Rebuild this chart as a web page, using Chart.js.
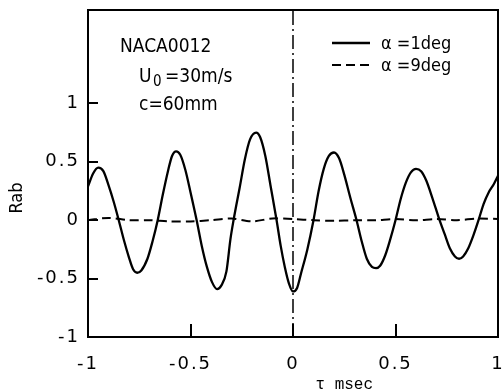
<!DOCTYPE html>
<html>
<head>
<meta charset="utf-8">
<script src="https://cdn.jsdelivr.net/npm/chart.js@4"></script>
<style>
    html, body { margin: 0; padding: 0; background: #fff; }
    #wrap { width: 502px; height: 391px; }
</style>
</head>
<body>
<div id="wrap"><canvas id="corrChart"></canvas></div>
<script>
// correlation Rab against time lag tau (msec)
const tauA1 = [-1.00, -0.975, -0.95, -0.925, -0.90, -0.875, -0.85, -0.825, -0.80, -0.78, -0.76, -0.74, -0.71, -0.685,
    -0.66, -0.635, -0.61, -0.59, -0.57, -0.55, -0.525, -0.50, -0.47, -0.445, -0.42, -0.395, -0.37, -0.35, -0.325, -0.305,
    -0.29, -0.26, -0.235, -0.21, -0.18, -0.16, -0.135, -0.11, -0.08, -0.06, -0.04, -0.02, 0.00, 0.02, 0.04, 0.07,
    0.10, 0.125, 0.15, 0.175, 0.20, 0.225, 0.25, 0.28, 0.31, 0.335, 0.36, 0.385, 0.405, 0.425, 0.45, 0.475,
    0.50, 0.525, 0.55, 0.575, 0.60, 0.625, 0.65, 0.68, 0.715, 0.74, 0.765, 0.79, 0.81, 0.83, 0.855, 0.88,
    0.905, 0.93, 0.955, 0.98, 1.00];
const rabA1 = [0.29, 0.40, 0.45, 0.42, 0.30, 0.16, 0.00, -0.17, -0.32, -0.42, -0.45, -0.43, -0.33, -0.18,
    0.00, 0.22, 0.42, 0.55, 0.59, 0.56, 0.43, 0.24, 0.00, -0.22, -0.40, -0.53, -0.59, -0.56, -0.44, -0.16,
    0.00, 0.28, 0.52, 0.69, 0.75, 0.71, 0.55, 0.30, 0.00, -0.22, -0.40, -0.54, -0.61, -0.58, -0.45, -0.25,
    0.00, 0.25, 0.44, 0.55, 0.58, 0.53, 0.39, 0.19, 0.00, -0.18, -0.33, -0.40, -0.41, -0.39, -0.30, -0.16,
    0.00, 0.18, 0.32, 0.41, 0.44, 0.42, 0.34, 0.19, 0.00, -0.12, -0.24, -0.31, -0.33, -0.31, -0.24, -0.13,
    0.00, 0.14, 0.24, 0.31, 0.38];

const tauA9 = [-1.0, -0.9, -0.8, -0.7, -0.6, -0.5, -0.4, -0.3, -0.2, -0.1, 0.0, 0.1, 0.2, 0.3, 0.4, 0.5, 0.6, 0.7, 0.8, 0.9, 1.0];
const rabA9 = [0.00, 0.02, 0.00, 0.00, -0.01, -0.01, 0.00, 0.015, -0.01, 0.015, 0.01, 0.00, -0.005, 0.00, 0.00, 0.01, 0.00, 0.01, 0.00, 0.015, 0.01];

const seriesLabels = ['α =1deg', 'α =9deg'];
const yTicks = [-1, -0.5, 0, 0.5, 1];
const xTicks = [-1, -0.5, 0, 0.5, 1];
const noteLines = ['NACA0012', 'U', '0', '=30m/s', 'c=60mm'];

const toPoints = (xs, ys) => xs.map((x, i) => ({ x: x, y: ys[i] }));

const FONT = '"DejaVu Sans Condensed", "DejaVu Sans", sans-serif';
const TICK_FONT = '"DejaVu Sans", sans-serif';

// wider letter spacing for the tick numbers
const spacing = {
    id: 'spacing',
    beforeDraw(chart) { chart.ctx.letterSpacing = '2px'; },
    afterDraw(chart) { chart.ctx.letterSpacing = '0px'; }
};

// box, inner ticks, notes, legend and axis titles
const decorations = {
    id: 'decorations',
    afterDatasetsDraw(chart) {
        const ctx = chart.ctx;
        const a = chart.chartArea;
        const xs = chart.scales.x, ys = chart.scales.y;
        ctx.save();
        ctx.letterSpacing = '0px';
        ctx.strokeStyle = '#000';
        ctx.lineWidth = 2;
        ctx.strokeRect(a.left, a.top, a.right - a.left, a.bottom - a.top);

        ctx.beginPath();
        yTicks.filter(v => v > -1).forEach(v => {
            const py = Math.round(ys.getPixelForValue(v));
            ctx.moveTo(a.left, py);
            ctx.lineTo(a.left + 10, py);
        });
        xTicks.filter(v => v > -1 && v < 1).forEach(v => {
            const px = Math.round(xs.getPixelForValue(v));
            ctx.moveTo(px, a.bottom);
            ctx.lineTo(px, a.bottom - 13);
        });
        ctx.stroke();

        ctx.fillStyle = '#000';
        ctx.textBaseline = 'middle';
        ctx.textAlign = 'left';
        ctx.font = '19px ' + FONT;
        ctx.fillText(noteLines[0], 120, 47);
        ctx.fillText(noteLines[1], 139, 77);
        ctx.font = '15px ' + FONT;
        ctx.fillText(noteLines[2], 153, 82);
        ctx.font = '19px ' + FONT;
        ctx.fillText(noteLines[3], 165, 77);
        ctx.fillText(noteLines[4], 139, 105);

        // legend
        ctx.font = '18px ' + FONT;
        chart.data.datasets.slice(0, 2).forEach((ds, i) => {
            const ly = 43 + i * 22;
            ctx.beginPath();
            ctx.lineWidth = ds.borderWidth;
            ctx.setLineDash(ds.borderDash || []);
            ctx.moveTo(332, ly);
            ctx.lineTo(370, ly);
            ctx.stroke();
            ctx.setLineDash([]);
            ctx.fillText(ds.label, 381, ly + 1);
        });

        ctx.font = '18px ' + FONT;
        ctx.save();
        ctx.translate(17, 198);
        ctx.rotate(-Math.PI / 2);
        ctx.textAlign = 'center';
        ctx.fillText('Rab', 0, 0);
        ctx.restore();

        ctx.font = '16px "Liberation Mono", monospace';
        ctx.textAlign = 'center';
        ctx.fillText('τ msec', xs.getPixelForValue(0.25), 385);
        ctx.restore();
    }
};

new Chart(document.getElementById('corrChart'), {
    type: 'line',
    data: {
        datasets: [{
            label: seriesLabels[0],
            data: toPoints(tauA1, rabA1),
            borderColor: '#000',
            borderWidth: 2.3,
            pointRadius: 0,
            cubicInterpolationMode: 'monotone'
        }, {
            label: seriesLabels[1],
            data: toPoints(tauA9, rabA9),
            borderColor: '#000',
            borderWidth: 2,
            borderDash: [9, 5],
            pointRadius: 0,
            tension: 0.3
        }, {
            label: 'tau0',
            data: [{ x: 0, y: -1 }, { x: 0, y: 1.8 }],
            borderColor: '#000',
            borderWidth: 1.5,
            borderDash: [14, 4, 2, 4],
            pointRadius: 0
        }]
    },
    options: {
        responsive: true,
        maintainAspectRatio: false,
        animation: false,
        layout: { padding: { top: 10, right: 4, left: 0, bottom: 0 } },
        plugins: { legend: { display: false }, tooltip: { enabled: false } },
        scales: {
            x: {
                type: 'linear',
                min: -1, max: 1,
                grid: { display: false, drawTicks: false, tickLength: 0 },
                border: { display: false },
                afterBuildTicks: s => { s.ticks = xTicks.map(v => ({ value: v })); },
                afterFit: s => { s.height = 54; s.paddingLeft = 0; s.paddingRight = 0; },
                ticks: {
                    color: '#000',
                    padding: 17,
                    maxRotation: 0,
                    font: { family: TICK_FONT, size: 18 },
                    callback: v => String(v)
                }
            },
            y: {
                type: 'linear',
                min: -1, max: 1.8,
                grid: { display: false, drawTicks: false, tickLength: 0 },
                border: { display: false },
                afterBuildTicks: s => { s.ticks = yTicks.map(v => ({ value: v })); },
                afterFit: s => { s.width = 88; s.paddingTop = 0; s.paddingBottom = 0; },
                ticks: {
                    color: '#000',
                    padding: 8,
                    font: { family: TICK_FONT, size: 18 },
                    callback: v => String(v)
                }
            }
        }
    },
    plugins: [spacing, decorations]
});
</script>
</body>
</html>
